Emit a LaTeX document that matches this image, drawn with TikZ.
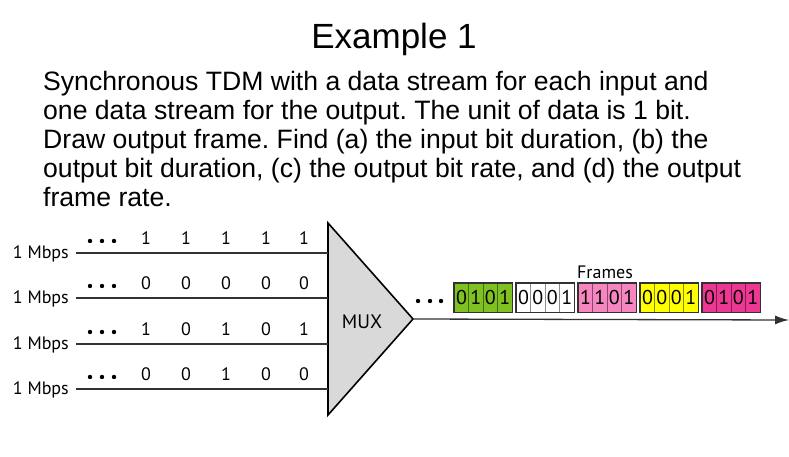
\documentclass[tikz,border=0pt]{standalone}
\usepackage{fontspec}
\setmainfont{Liberation Sans}
\newfontfamily\labfont{PT Sans}
\usetikzlibrary{arrows.meta}
\frenchspacing
\definecolor{fgreen}{RGB}{126,193,32}
\definecolor{fwhite}{RGB}{255,255,255}
\definecolor{fpink}{RGB}{245,134,192}
\definecolor{fyellow}{RGB}{255,255,0}
\definecolor{fmagenta}{RGB}{236,56,146}
\definecolor{muxgray}{RGB}{217,217,217}
\definecolor{edge}{RGB}{50,50,50}
\begin{document}
\begin{tikzpicture}[x=1pt,y=-1pt,
  taskline/.style={anchor=base west,inner sep=0pt,font=\fontsize{26.6}{29}\selectfont},
  ratelabel/.style={anchor=east,inner sep=0pt,font=\labfont\fontsize{18}{20}\selectfont},
  bitlabel/.style={inner sep=0pt,font=\labfont\fontsize{18}{20}\selectfont},
  cell/.style={draw=#1!55!black,line width=0.6pt,fill=#1,minimum width=14.4pt,minimum height=29pt,
               inner sep=0pt,anchor=north west,font=\labfont\fontsize{20}{22}\selectfont},
  framebox/.style={draw=edge,line width=1.1pt},
  dotmark/.style={fill=black,circle,inner sep=0pt,minimum size=4.4pt},
  wire/.style={line width=1.3pt,draw=edge}]
\useasboundingbox (0,0) rectangle (789,457);

% heading and task text
\node[anchor=base,inner sep=0pt,font=\fontsize{35}{38}\selectfont] (title) at (394,49) {Example 1};
\node[taskline] (t1) at (43,91)  {Synchronous TDM with a data stream for each input and};
\node[taskline] (t2) at (43,120) {one data stream for the output. The unit of data is 1 bit.};
\node[taskline] (t3) at (43,149) {Draw output frame. Find (a) the input bit duration, (b) the};
\node[taskline] (t4) at (43,178) {output bit duration, (c) the output bit rate, and (d) the output};
\node[taskline] (t5) at (43,207) {frame rate.};

% multiplexer
\coordinate (mtop) at (328,223);
\coordinate (mbot) at (328,415);
\coordinate (mtip) at (413,319);
\draw[line width=1.6pt,fill=muxgray,line join=miter] (mtop) -- (mtip) -- (mbot) -- cycle;
\node[inner sep=0pt,font=\labfont\fontsize{19.5}{21}\selectfont] (mux) at (362,322) {MUX};

% input streams
\foreach \r/\y/\bits in {1/253/{1,1,1,1,1},2/298/{0,0,0,0,0},3/344/{1,0,1,0,1},4/389/{0,0,1,0,0}}{
  \coordinate (in\r) at (76,\y);
  \coordinate (mx\r) at (328,\y);
  \draw[wire] (in\r) -- (mx\r);
  \node[ratelabel] (rate\r) at (69,\y+0.5) {1 Mbps};
  \foreach \dx [count=\k] in {90,102,114}
    \node[dotmark] (d\r\k) at (\dx,\y-12) {};
  \foreach \b [count=\k] in \bits {
    \pgfmathsetmacro{\bx}{{146,186,226,266,304}[\k-1]}
    \node[bitlabel] (b\r\k) at (\bx,\y-15) {\b};
  }
}

% output line
\coordinate (outend) at (789,320);
\draw[wire,-{Latex[length=14pt,width=9pt]}] (mtip) -- (outend);
\foreach \dx [count=\k] in {418,430,441}
  \node[dotmark] (od\k) at (\dx,301) {};

% frames
\node[inner sep=0pt,font=\labfont\fontsize{18}{20}\selectfont] (frames) at (605,272) {Frames};
\foreach \f/\col/\bits in {0/fgreen/{0,1,0,1},1/fwhite/{0,0,0,1},2/fpink/{1,1,0,1},3/fyellow/{0,0,0,1},4/fmagenta/{0,1,0,1}}{
  \foreach \b [count=\c from 0] in \bits
    \node[cell=\col] (f\f c\c) at (454+62*\f+14.4*\c,283) {\b};
  \draw[framebox] (f\f c0.north west) rectangle (f\f c3.south east);
}
\end{tikzpicture}
\end{document}
